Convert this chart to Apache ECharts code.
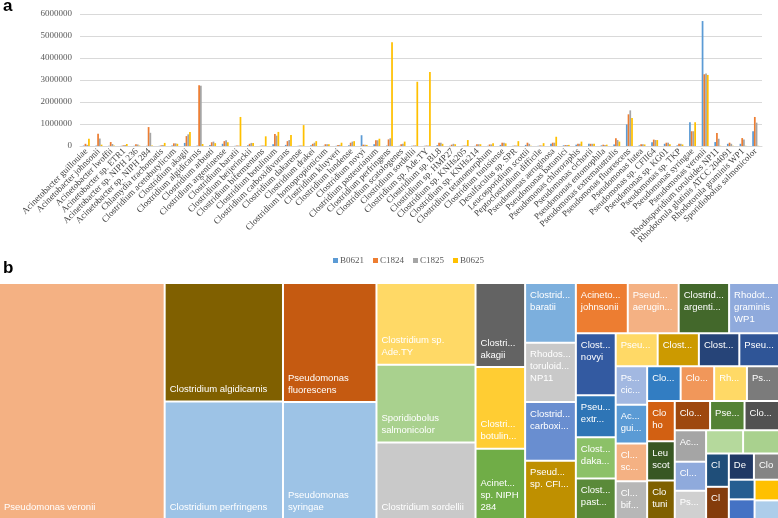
<!DOCTYPE html>
<html>
<head>
<meta charset="utf-8">
<script src="https://cdn.jsdelivr.net/npm/echarts@6.0.0/dist/echarts.min.js"></script>
<style>html,body{margin:0;padding:0;background:#fff}#c{width:778px;height:518px}</style>
</head>
<body>
<div id="c"></div>
<script>
const categories = [
  'Acinetobacter guillouiae','Acinetobacter johnsonii','Acinetobacter lwoffii','Acinetobacter sp. ETR1',
  'Acinetobacter sp. NIPH 236','Acinetobacter sp. NIPH 284','Chlamydia trachomatis','Clostridium acetobutylicum',
  'Clostridium akagii','Clostridium algidicarnis','Clostridium arbusti','Clostridium argentinense',
  'Clostridium baratii','Clostridium beijerinckii','Clostridium bifermentans','Clostridium botulinum',
  'Clostridium carboxidivorans','Clostridium dakarense','Clostridium drakei','Clostridium homopropionicum',
  'Clostridium kluyveri','Clostridium lundense','Clostridium novyi','Clostridium pasteurianum',
  'Clostridium perfringens','Clostridium scatologenes','Clostridium sordellii','Clostridium sp. Ade.TY',
  'Clostridium sp. BL8','Clostridium sp. HMP27','Clostridium sp. KNHs205','Clostridium sp. KNHs214',
  'Clostridium tetanomorphum','Clostridium tunisiense','Desulfaculus sp. SPR','Leucosporidium scottii',
  'Peptoclostridium difficile','Pseudomonas aeruginosa','Pseudomonas batumici','Pseudomonas chlororaphis',
  'Pseudomonas cichorii','Pseudomonas entomophila','Pseudomonas extremaustralis','Pseudomonas fluorescens',
  'Pseudomonas lutea','Pseudomonas sp. CFII64','Pseudomonas sp. KG01','Pseudomonas sp. TKP',
  'Pseudomonas syringae','Pseudomonas veronii','Rhodosporidium toruloides NP11','Rhodotorula glutinis ATCC 204091',
  'Rhodotorula graminis WP1','Sporidiobolus salmonicolor'
];
const seriesNames = ['B0621','C1824','C1825','B0625'];
const b0621 = [20000,20000,10000,10000,10000,10000,10000,20000,140000,20000,50000,100000,10000,30000,10000,80000,50000,10000,30000,10000,10000,30000,490000,80000,20000,10000,10000,10000,40000,10000,10000,10000,10000,50000,10000,50000,10000,100000,30000,60000,100000,30000,70000,980000,30000,170000,100000,30000,1080000,5680000,180000,100000,100000,670000];
const c1824 = [100000,560000,180000,30000,80000,860000,30000,120000,450000,2760000,170000,220000,20000,100000,20000,550000,220000,20000,100000,80000,40000,150000,60000,260000,300000,80000,20000,20000,150000,60000,20000,80000,70000,150000,20000,150000,20000,150000,40000,100000,100000,60000,350000,1440000,80000,290000,150000,100000,670000,3260000,590000,150000,360000,1320000];
const c1825 = [50000,340000,90000,40000,70000,600000,40000,120000,530000,2740000,200000,260000,20000,140000,20000,470000,270000,20000,150000,80000,50000,200000,60000,260000,350000,100000,30000,20000,150000,100000,20000,80000,70000,150000,20000,100000,20000,150000,50000,100000,100000,50000,270000,1620000,80000,270000,150000,100000,670000,3300000,330000,100000,300000,1060000];
const b0625 = [330000,60000,20000,90000,20000,20000,140000,100000,640000,90000,130000,170000,1320000,140000,440000,640000,500000,950000,220000,80000,150000,220000,50000,330000,4720000,200000,2920000,3360000,100000,80000,270000,80000,120000,120000,220000,10000,130000,420000,50000,200000,100000,60000,200000,1270000,70000,270000,80000,70000,1080000,3230000,10000,10000,10000,10000];
// treemap (panel b) cell sizes, same order as categories
const treemapValues = [480000,1030000,390000,200000,200000,1380000,200000,410000,1650000,5550000,530000,1000000,1200000,460000,470000,1600000,1180000,650000,460000,440000,260000,540000,980000,640000,5500000,470000,3000000,3200000,360000,330000,300000,290000,400000,420000,260000,430000,180000,1010000,350000,550000,480000,340000,660000,4400000,440000,1170000,520000,400000,4330000,15470000,1190000,450000,990000,3050000];
const yMin = 0, yMax = 6000000, yStep = 1000000;

const seriesColors = ['#5B9BD5','#ED7D31','#A5A5A5','#FFC000'];
const palette = [
  ['#5B9BD5','#ED7D31','#A5A5A5','#FFC000','#4472C4','#70AD47'],
  ['#255E91','#9E480E','#636363','#806000','#264478','#43682B'],
  ['#7CAFDD','#F1975A','#B7B7B7','#FFCD33','#698ED0','#8CC168'],
  ['#327DC2','#D26012','#848484','#CC9A00','#335AA1','#5A8A39'],
  ['#9DC3E6','#F4B183','#C9C9C9','#FFD966','#8FAADC','#A9D18E'],
  ['#1F4E79','#843C0C','#525252','#7F6000','#203864','#385723'],
  ['#ADCDEA','#F4B183','#D0D0D0','#FFD966','#A2B8E1','#B5D99C'],
  ['#2E75B6','#C55A11','#7B7B7B','#BF9000','#2F5597','#548235'],
  ['#9DC3E6','#F4B183','#C9C9C9','#FFD966','#8FAADC','#A9D18E']
];

const seriesData = [b0621, c1824, c1825, b0625];

function hasFont(f) {
  const ctx = document.createElement('canvas').getContext('2d');
  const s = 'Clostridium abcdefghijklmnop';
  ctx.font = '20px monospace';
  const a = ctx.measureText(s).width;
  ctx.font = '20px "' + f + '", monospace';
  return Math.abs(ctx.measureText(s).width - a) > 0.5;
}
const narrow = hasFont('Liberation Sans Narrow');
const tmFont = narrow ? '"Liberation Sans Narrow", "Liberation Sans", Arial' : '"Liberation Sans", Arial';
const tmSize = narrow ? 10.5 : 9.5;

function splitWords(name) {
  const w = name.split(' ');
  const lines = [];
  for (let i = 0; i < w.length; i++) {
    if (w[i] === 'sp.' && i + 1 < w.length) { lines.push(w[i] + ' ' + w[i + 1]); i++; }
    else lines.push(w[i]);
  }
  return lines.join('\n');
}

const tmData = categories.map((name, i) => {
  const v = treemapValues[i];
  const big = v >= 1300000;
  const wide = v >= 2800000;
  return {
    name: name,
    value: v,
    itemStyle: { color: palette[Math.floor(i / 6) % palette.length][i % 6] },
    label: {
      position: big ? 'insideBottomLeft' : 'insideTopLeft',
      overflow: wide ? 'break' : 'truncate',
      formatter: wide ? '{b}' : splitWords(name)
    }
  };
});

const chart = echarts.init(document.getElementById('c'), null, { renderer: 'canvas' });
const serif = 'Liberation Serif, Times New Roman, serif';
chart.setOption({
  animation: false,
  backgroundColor: '#fff',
  title: [
    { text: 'a', left: 3, top: -2, padding: 0, textStyle: { fontSize: 17, fontWeight: 'bold', fontFamily: 'Liberation Sans, Arial', color: '#000' } },
    { text: 'b', left: 3, top: 260, padding: 0, textStyle: { fontSize: 17, fontWeight: 'bold', fontFamily: 'Liberation Sans, Arial', color: '#000' } }
  ],
  legend: {
    data: seriesNames,
    top: 251, left: 328,
    icon: 'rect', itemWidth: 5, itemHeight: 5, itemGap: 9,
    textStyle: { fontFamily: serif, fontSize: 9, color: '#595959', padding: [0, 0, 0, -3] }
  },
  grid: { left: 80, right: 16, top: 14, height: 132 },
  xAxis: {
    type: 'category', data: categories,
    axisTick: { show: false },
    axisLine: { lineStyle: { color: '#D9D9D9' } },
    axisLabel: { rotate: 45, interval: 0, fontFamily: serif, fontSize: 9, color: '#404040', margin: 4 }
  },
  yAxis: {
    type: 'value', min: yMin, max: yMax, interval: yStep,
    axisLine: { show: false }, axisTick: { show: false },
    axisLabel: { fontFamily: serif, fontSize: 9, color: '#595959', margin: 8, formatter: v => String(v) },
    splitLine: { lineStyle: { color: '#D9D9D9' } }
  },
  series: seriesNames.map((n, k) => ({
    name: n, type: 'bar', data: seriesData[k],
    barGap: '0%', barCategoryGap: '45%',
    itemStyle: { color: seriesColors[k] }
  })).concat([{
    type: 'treemap',
    left: 0, top: 284, width: 778, height: 234,
    roam: false, nodeClick: false,
    breadcrumb: { show: false },
    squareRatio: 0.85,
    visibleMin: 0,
    label: { show: true, color: '#fff', fontFamily: tmFont, fontSize: tmSize, padding: [5, 3, 5, 4], lineHeight: 12 },
    levels: [
      { itemStyle: { borderWidth: 0, gapWidth: 2 } },
      { itemStyle: { borderWidth: 0, gapWidth: 0 } }
    ],
    data: tmData
  }])
});
</script>
</body>
</html>
